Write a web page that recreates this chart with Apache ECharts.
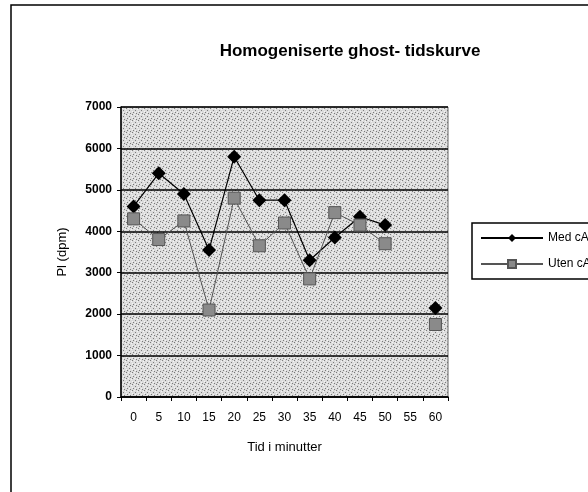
<!DOCTYPE html>
<html>
<head>
<meta charset="utf-8">
<script src="https://cdn.jsdelivr.net/npm/echarts@6/dist/echarts.min.js"></script>
<style>
  html, body { margin: 0; padding: 0; background: #fff; }
  #chart { width: 588px; height: 492px; }
</style>
</head>
<body>
<div id="chart"></div>
<script>
// tid i minutter
const categories = ['0', '5', '10', '15', '20', '25', '30', '35', '40', '45', '50', '55', '60'];
// (dpm), null = ingen måling
const medValues = [4600, 5400, 4900, 3550, 5800, 4750, 4750, 3300, 3850, 4350, 4150, null, 2150];
const utenValues = [4300, 3800, 4250, 2100, 4800, 3650, 4200, 2850, 4450, 4150, 3700, null, 1750];
const seriesNames = ['Med cAMP', 'Uten cAMP'];

let chart = echarts.init(document.getElementById('chart'), null, {renderer: 'canvas'});

//grå prikkete bakgrunn i plottet
function makePattern() {
  let c = document.createElement('canvas');
  c.width = 6;
  c.height = 6;
  let ctx = c.getContext('2d');
  ctx.fillStyle = '#dcdcdc';
  ctx.fillRect(0, 0, 6, 6);
  ctx.fillStyle = '#7a7a7a';
  ctx.fillRect(0, 0, 1, 1);
  ctx.fillRect(3, 2, 1, 1);
  ctx.fillRect(1, 4, 1, 1);
  ctx.fillRect(4, 5, 1, 1);
  ctx.fillStyle = '#f4f4f4';
  ctx.fillRect(2, 0, 1, 1);
  ctx.fillRect(5, 1, 1, 1);
  ctx.fillRect(0, 3, 1, 1);
  ctx.fillRect(3, 4, 1, 1);
  return c;
}

let option = {
  backgroundColor: '#fff',
  animation: false,
  title: {
    text: 'Homogeniserte ghost- tidskurve',
    left: 345,
    top: 38,
    textAlign: 'center',
    textStyle: {
      fontFamily: 'Liberation Sans',
      fontSize: 17,
      fontWeight: 'bold',
      color: '#000'
    }
  },
  legend: {
    data: seriesNames,
    orient: 'vertical',
    left: 472,
    top: 223,
    itemWidth: 62,
    itemHeight: 10,
    itemGap: 14,
    padding: [9, 10, 9, 8],
    borderColor: '#000',
    borderWidth: 1.5,
    textStyle: {
      fontFamily: 'Liberation Sans',
      fontSize: 12,
      color: '#000'
    }
  },
  grid: {
    left: 121,
    right: 140,
    top: 107,
    bottom: 95,
    show: true,
    backgroundColor: {image: makePattern(), repeat: 'repeat'},
    borderColor: '#666',
    borderWidth: 1
  },
  xAxis: {
    type: 'category',
    data: categories,
    boundaryGap: true,
    name: 'Tid i minutter',
    nameLocation: 'middle',
    nameGap: 44,
    nameTextStyle: {fontFamily: 'Liberation Sans', fontSize: 13, color: '#000'},
    axisLine: {lineStyle: {color: '#000', width: 1.5}},
    axisTick: {show: true, length: 4, lineStyle: {color: '#000'}},
    axisLabel: {
      fontFamily: 'Liberation Sans',
      fontSize: 12,
      color: '#000',
      margin: 15,
      interval: 0
    },
    splitLine: {show: false}
  },
  yAxis: {
    type: 'value',
    min: 0,
    max: 7000,
    interval: 1000,
    name: 'Pl (dpm)',
    nameLocation: 'middle',
    nameRotate: 90,
    nameGap: 52,
    nameTextStyle: {fontFamily: 'Liberation Sans', fontSize: 13, color: '#000'},
    axisLine: {show: true, lineStyle: {color: '#000', width: 1.5}},
    axisTick: {show: true, length: 4, lineStyle: {color: '#000'}},
    axisLabel: {
      fontFamily: 'Liberation Sans',
      fontSize: 12,
      fontWeight: 'bold',
      color: '#000',
      margin: 9,
      formatter: function (v) {
        return String(v);
      }
    },
    splitLine: {lineStyle: {color: '#000', width: 1.5}}
  },
  series: [
    {
      name: seriesNames[0],
      type: 'line',
      data: medValues,
      connectNulls: false,
      symbol: 'diamond',
      symbolSize: 14,
      itemStyle: {color: '#000'},
      lineStyle: {color: '#000', width: 1.2}
    },
    {
      name: seriesNames[1],
      type: 'line',
      data: utenValues,
      connectNulls: false,
      symbol: 'rect',
      symbolSize: 12,
      itemStyle: {color: '#8a8a8a', borderColor: '#555', borderWidth: 1},
      lineStyle: {color: '#555', width: 1}
    }
  ],
  graphic: [
    {
      type: 'rect',
      shape: {x: 11, y: 5, width: 700, height: 600},
      style: {fill: 'none', stroke: '#000', lineWidth: 1.5},
      silent: true
    }
  ]
};

chart.setOption(option);
</script>
</body>
</html>
